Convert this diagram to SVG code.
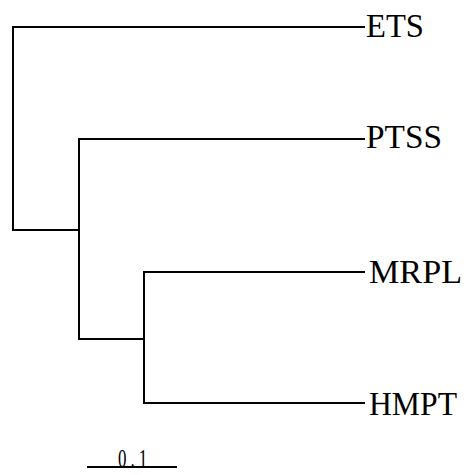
<svg xmlns="http://www.w3.org/2000/svg" width="468" height="475" viewBox="0 0 468 475">
  <style>
    .branch { fill: none; stroke: #000; stroke-width: 2; stroke-linecap: square; }
    .leaf { font-family: "Liberation Serif", "Times New Roman", serif; font-size: 34px; fill: #000; }
    .scale { font-family: "Liberation Serif", "Times New Roman", serif; font-size: 26px; fill: #000; }
  </style>
  <defs>
    <clipPath id="topEdge">
      <rect x="0" y="15" width="468" height="460"/>
    </clipPath>
  </defs>
  <rect width="468" height="475" fill="#fff"/>

  <!-- tree branches (rectangular cladogram) -->
  <g id="connectors">
    <!-- root: ETS vs rest -->
    <path class="branch" d="M364 27 H13 V230 H79"/>
    <!-- inner node: PTSS vs (MRPL, HMPT) -->
    <path class="branch" d="M364 139 H79 V339 H144"/>
    <!-- inner node: MRPL vs HMPT -->
    <path class="branch" d="M364 272 H144 V403 H364"/>
  </g>

  <g id="leaf-ets" clip-path="url(#topEdge)">
    <text class="leaf" x="366" y="37" textLength="58" lengthAdjust="spacingAndGlyphs">ETS</text>
  </g>
  <g id="leaf-ptss">
    <text class="leaf" x="366" y="148" textLength="76" lengthAdjust="spacingAndGlyphs">PTSS</text>
  </g>
  <g id="leaf-mrpl">
    <text class="leaf" x="369" y="283" textLength="93" lengthAdjust="spacingAndGlyphs">MRPL</text>
  </g>
  <g id="leaf-hmpt">
    <text class="leaf" x="369" y="415" textLength="88" lengthAdjust="spacingAndGlyphs">HMPT</text>
  </g>

  <!-- scale bar -->
  <g id="scale-bar">
    <path class="branch" d="M88 467 H176" stroke-linecap="butt"/>
    <text class="scale" transform="translate(118,467) scale(0.65,1)" x="0" y="0" textLength="45" lengthAdjust="spacing">0.1</text>
  </g>
</svg>
